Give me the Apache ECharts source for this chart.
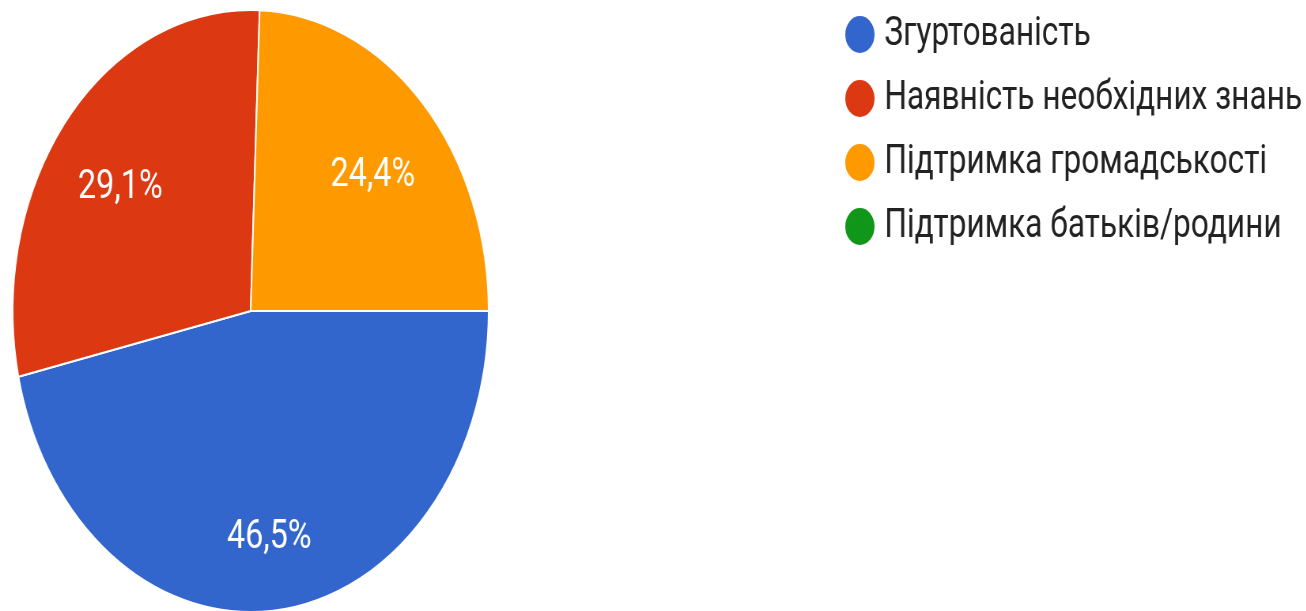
<!DOCTYPE html>
<html>
<head>
<meta charset="utf-8">
<script src="https://cdn.jsdelivr.net/npm/echarts@6/dist/echarts.min.js"></script>
<style>
  html, body { margin: 0; padding: 0; background: #fff; overflow: hidden; }
  #wrap { width: 1306px; height: 611px; overflow: hidden; position: relative; }
  #chart { width: 1652px; height: 611px; transform: scaleX(0.7907); transform-origin: 0 0; position: absolute; left: 0; top: 0; }
</style>
</head>
<body>
<div id="wrap"><div id="chart"></div></div>
<script>
const categories = ['Згуртованість', 'Наявність необхідних знань', 'Підтримка громадськості', 'Підтримка батьків/родини'];
const values = [46.5, 29.1, 24.4, 0];
const colors = ['#3366cc', '#dc3912', '#ff9900', '#109618'];

const pieData = categories.map((c, i) => ({ name: c, value: values[i] }));
const fmt = p => p.value > 0 ? p.value.toFixed(1).replace('.', ',') + '%' : '';

const chart = echarts.init(document.getElementById('chart'));
chart.setOption({
  animation: false,
  color: colors,
  legend: {
    orient: 'vertical',
    left: 1062,
    top: 9,
    itemGap: 23,
    itemWidth: 40,
    itemHeight: 39,
    icon: 'circle',
    textStyle: { fontFamily: 'Roboto', fontSize: 40, color: '#222', padding: [0, 0, 0, 6] },
    data: categories
  },
  series: [{
    type: 'pie',
    center: [317, 311],
    radius: 301,
    startAngle: 0,
    clockwise: true,
    avoidLabelOverlap: false,
    itemStyle: { borderColor: '#fff', borderWidth: 2 },
    label: { show: false },
    labelLine: { show: false },
    emphasis: { disabled: true },
    data: pieData
  }, {
    type: 'pie',
    center: [317, 311],
    radius: [122, 301],
    startAngle: 0,
    clockwise: true,
    silent: true,
    avoidLabelOverlap: false,
    itemStyle: { color: 'rgba(0,0,0,0)', borderWidth: 0 },
    label: {
      show: true,
      position: 'inside',
      color: '#fff',
      fontFamily: 'Roboto',
      fontSize: 41,
      offset: [0, 14],
      formatter: fmt
    },
    labelLine: { show: false },
    emphasis: { disabled: true },
    data: pieData
  }]
});
</script>
</body>
</html>
